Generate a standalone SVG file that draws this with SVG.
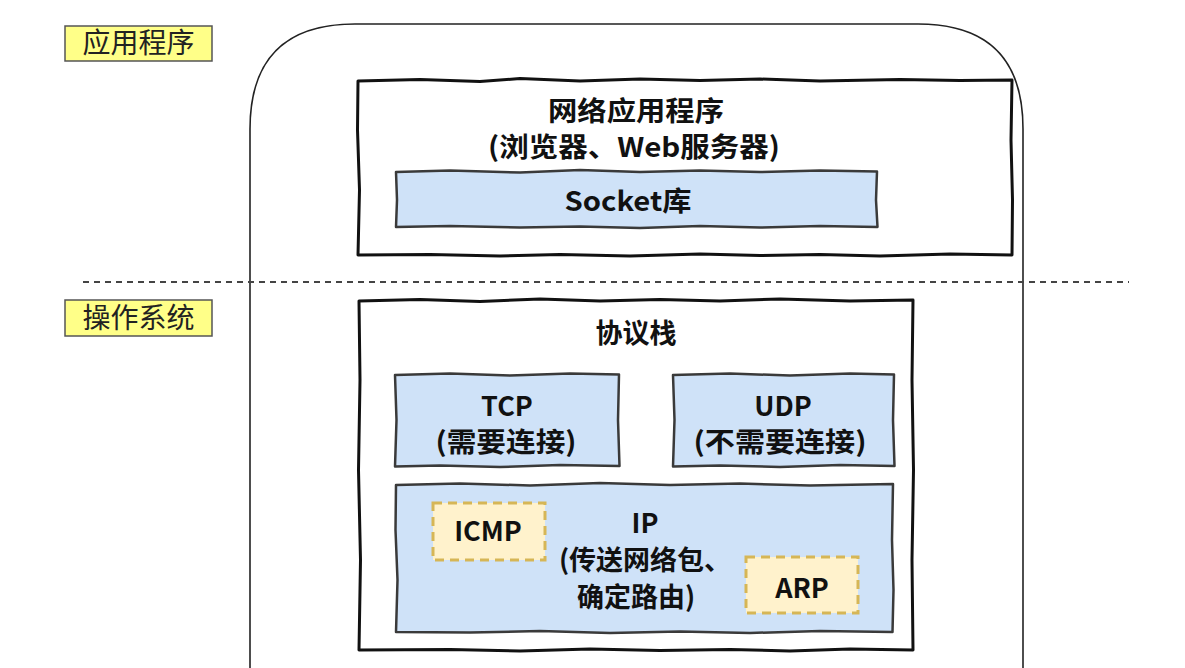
<svg xmlns="http://www.w3.org/2000/svg" width="1185" height="668" viewBox="0 0 1185 668">
<style>
.t{font-family:"Noto Sans CJK SC","Noto Sans",sans-serif;font-weight:700;fill:#111;text-anchor:middle;font-size:27px}
.lbl{font-family:"Noto Sans CJK SC",sans-serif;font-weight:400;fill:#222;text-anchor:middle;font-size:28px}
.box{fill:#fff;stroke:#111;stroke-width:3;stroke-linejoin:round}
.blue{fill:#cfe2f8;stroke:#3a3a3a;stroke-width:2.5;stroke-linejoin:round}
.yel{fill:#fff2cc;stroke:#d6b656;stroke-width:3;stroke-dasharray:9 6}
.tag{fill:#ffff88;stroke:#555;stroke-width:1.5}
</style>
<rect width="1185" height="668" fill="#fff"/>
<g id="outer">
<path d="M250,680 L250,129 Q250,24 355,24 L918,24 Q1023,24 1023,129 L1023,680" fill="none" stroke="#222" stroke-width="1.6"/>
</g>
<g id="connectors">
<line x1="83" y1="282" x2="1129" y2="282" stroke="#444" stroke-width="2" stroke-dasharray="6 5"/>
</g>
<g id="label-app">
<rect class="tag" x="65" y="26" width="147" height="35"/>
<text class="lbl" x="138.5" y="53">应用程序</text>
</g>
<g id="label-os">
<rect class="tag" x="65" y="300" width="147" height="36"/>
<text class="lbl" x="138.5" y="328">操作系统</text>
</g>
<g id="app">
<path class="box" d="M358,81 L420,79.5 L480,81.5 L520,78.5 L580,81 L640,79 L700,80.5 L760,79 L820,81 L900,79.5 L960,80.5 L1012,80 L1011,140 L1012.5,200 L1012,255 L950,254 L880,256 L820,254.5 L760,255.5 L700,254 L630,256 L560,254.5 L500,256 L430,254.5 L358,255 L359.5,190 L357.5,130 Z"/>
<text class="t" x="636" y="121" textLength="176" lengthAdjust="spacingAndGlyphs">网络应用程序</text>
<text class="t" x="634" y="157" textLength="292" lengthAdjust="spacingAndGlyphs">(浏览器、Web服务器)</text>
</g>
<g id="socket">
<path class="blue" d="M396,172 L450,170.5 L520,172.5 L580,170 L640,172 L700,170.5 L760,172 L820,170.5 L877,171.5 L876,200 L877.5,227 L820,226 L760,227.5 L700,226 L640,228 L580,226.5 L520,227.5 L450,226 L396,227 L397,200 Z"/>
<text class="t" x="628" y="211" textLength="127" lengthAdjust="spacingAndGlyphs">Socket库</text>
</g>
<g id="os">
<path class="box" d="M359,301 L420,299.5 L480,301.5 L540,299 L600,301 L660,299.5 L720,301 L780,299 L850,301 L913,300 L912,380 L913.5,470 L912,560 L913,650 L850,649 L790,651 L730,649.5 L660,650.5 L590,649 L520,651 L450,649.5 L359,650 L360.5,560 L358.5,470 L360,380 Z"/>
<text class="t" x="636" y="343">协议栈</text>
</g>
<g id="tcp">
<path class="blue" d="M395,375 L450,373.5 L510,375.5 L570,373.5 L619,374.5 L618,420 L619.5,466 L560,465 L500,467 L440,465.5 L395,466.5 L396.5,420 Z"/>
<text class="t" x="507" y="416">TCP</text>
<text class="t" x="506" y="452" textLength="141" lengthAdjust="spacingAndGlyphs">(需要连接)</text>
</g>
<g id="udp">
<path class="blue" d="M673,375 L730,373.5 L790,375.5 L850,373.5 L894,374.5 L893,420 L894.5,466 L840,465 L780,467 L720,465.5 L673,466.5 L674.5,420 Z"/>
<text class="t" x="783" y="416">UDP</text>
<text class="t" x="780" y="452" textLength="173" lengthAdjust="spacingAndGlyphs">(不需要连接)</text>
</g>
<g id="ip">
<path class="blue" d="M396,485 L460,483.5 L530,485.5 L600,483 L670,485 L740,483.5 L810,485.5 L893,484 L892,540 L893.5,590 L892.5,632 L820,631 L750,633 L680,631.5 L610,633 L540,631 L470,632.5 L396,632 L397.5,580 L395.5,530 Z"/>
<text class="t" x="645" y="533">IP</text>
<text class="t" x="645" y="570">(传送网络包、</text>
<text class="t" x="636" y="607">确定路由)</text>
</g>
<g id="icmp">
<rect class="yel" x="433" y="503" width="112" height="57"/>
<text class="t" x="488" y="541">ICMP</text>
</g>
<g id="arp">
<rect class="yel" x="746" y="557" width="112" height="56"/>
<text class="t" x="802" y="598">ARP</text>
</g>
</svg>
